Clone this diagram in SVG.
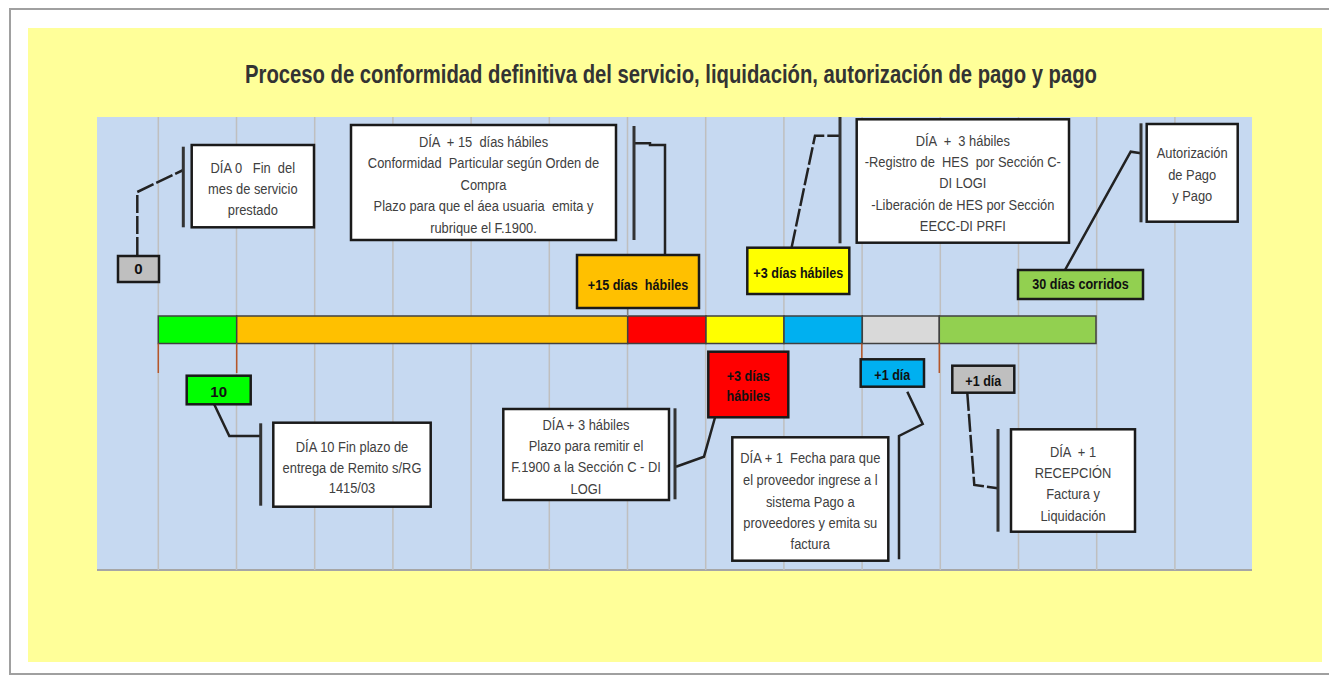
<svg xmlns="http://www.w3.org/2000/svg" width="1329" height="679" viewBox="0 0 1329 679">
<style>
.box{fill:#fff;stroke:#1a1a1a;stroke-width:2.5}
.lbl{stroke:#1a1a1a;stroke-width:2.5}
.t{font-family:"Liberation Sans",Arial,sans-serif;font-size:15px;fill:#404040;text-anchor:middle;white-space:pre}
.b{font-family:"Liberation Sans",Arial,sans-serif;font-size:15px;font-weight:bold;fill:#111;text-anchor:middle;white-space:pre}
.grid{stroke:#BFBFBF;stroke-width:1.5}
.seg{stroke:#404040;stroke-width:1.5}
.con{fill:none;stroke:#222;stroke-width:2.5}
.dash{stroke-dasharray:18 3}
.bar{stroke:#333;stroke-width:3}
.tick{stroke:#B5562A;stroke-width:1.5}
</style>
<rect x="10" y="9" width="1330" height="665" fill="#fff" stroke="#A0A0A0" stroke-width="2"/>
<rect x="28" y="28" width="1294" height="634" fill="#FFFF99"/>
<text x="671" y="83" font-family="'Liberation Sans',Arial,sans-serif" font-size="25" font-weight="bold" fill="#333" text-anchor="middle" textLength="852" lengthAdjust="spacingAndGlyphs">Proceso de conformidad definitiva del servicio, liquidación, autorización de pago y pago</text>
<g id="background">
<rect x="97" y="117" width="1155" height="453" fill="#C6D9F1"/>
<line x1="97" y1="570" x2="1252" y2="570" stroke="#A6A6A6" stroke-width="2"/>
<g class="grid">
<line x1="158.3" y1="117" x2="158.3" y2="570"/>
<line x1="236.5" y1="117" x2="236.5" y2="570"/>
<line x1="314.7" y1="117" x2="314.7" y2="570"/>
<line x1="392.9" y1="117" x2="392.9" y2="570"/>
<line x1="471.1" y1="117" x2="471.1" y2="570"/>
<line x1="549.3" y1="117" x2="549.3" y2="570"/>
<line x1="627.5" y1="117" x2="627.5" y2="570"/>
<line x1="705.7" y1="117" x2="705.7" y2="570"/>
<line x1="783.9" y1="117" x2="783.9" y2="570"/>
<line x1="862.1" y1="117" x2="862.1" y2="570"/>
<line x1="940.3" y1="117" x2="940.3" y2="570"/>
<line x1="1018.5" y1="117" x2="1018.5" y2="570"/>
<line x1="1096.7" y1="117" x2="1096.7" y2="570"/>
<line x1="1174.9" y1="117" x2="1174.9" y2="570"/>
</g>
</g>
<g id="timeline">
<rect class="seg" x="158.3" y="316" width="78.4" height="27.5" fill="#00FF00"/>
<rect class="seg" x="236.7" y="316" width="391" height="27.5" fill="#FFC000"/>
<rect class="seg" x="627.7" y="316" width="78.3" height="27.5" fill="#FF0000"/>
<rect class="seg" x="706" y="316" width="78" height="27.5" fill="#FFFF00"/>
<rect class="seg" x="784" y="316" width="78.3" height="27.5" fill="#00B0F0"/>
<rect class="seg" x="862.3" y="316" width="77" height="27.5" fill="#D9D9D9"/>
<rect class="seg" x="939.3" y="316" width="156.7" height="27.5" fill="#92D050"/>
<line class="tick" x1="158.3" y1="343.5" x2="158.3" y2="373"/>
<line class="tick" x1="236.7" y1="343.5" x2="236.7" y2="373"/>
<line class="tick" x1="861.8" y1="343.5" x2="861.8" y2="359"/>
<line class="tick" x1="939.3" y1="343.5" x2="939.3" y2="373"/>
<line x1="627.7" y1="308" x2="627.7" y2="316" stroke="#808080" stroke-width="1.5"/>
</g>
<g id="connectors">
<polyline class="con dash" points="137.3,255 137.3,192 183.3,170"/>
<line class="bar" x1="183.3" y1="146.7" x2="183.3" y2="227.3"/>
<polyline class="con" points="634,143.3 650,143.3 650,145 665,145 665,255"/>
<line class="bar" x1="634" y1="126" x2="634" y2="240" stroke="#555"/>
<polyline class="con dash" points="791.7,247 815,135.7 840,135.7"/>
<line class="bar" x1="840" y1="117" x2="840" y2="243.3"/>
<polyline class="con" points="1065,270 1130.7,151.7 1141,153.3"/>
<line class="bar" x1="1141" y1="123.3" x2="1141" y2="222.3" stroke="#555"/>
<polyline class="con" points="214.3,404.5 229.3,436 260.7,436"/>
<line class="bar" x1="260.7" y1="423.3" x2="260.7" y2="505.7"/>
<polyline class="con" points="715,417.5 704,456.7 676,466.7"/>
<line class="bar" x1="675" y1="408.3" x2="675" y2="499.3" stroke="#555"/>
<polyline class="con" points="907.3,391.7 922.7,424 899,436 899,559.3"/>
<polyline class="con dash" points="967.3,393 974.3,485 997.7,488.3"/>
<line class="bar" x1="998" y1="429" x2="998" y2="531.7"/>
</g>
<g id="n-dia0">
<rect class="box" x="191.7" y="145" width="122.3" height="82.3"/>
<g transform="translate(252.8 0) scale(0.86 1)">
<text class="t" x="0" y="173">DÍA 0   Fin  del</text>
<text class="t" x="0" y="194">mes de servicio</text>
<text class="t" x="0" y="215">prestado</text>
</g>
</g>
<g id="n-0">
<rect class="lbl" x="118" y="256" width="41" height="26" fill="#BFBFBF"/>
<text class="b" x="138.5" y="274">0</text>
</g>
<g id="n-dia15">
<rect class="box" x="351" y="125" width="265" height="115"/>
<g transform="translate(483.5 0) scale(0.86 1)">
<text class="t" x="0" y="147">DÍA  + 15  días hábiles</text>
<text class="t" x="0" y="168.5">Conformidad  Particular según Orden de</text>
<text class="t" x="0" y="190">Compra</text>
<text class="t" x="0" y="211.5">Plazo para que el áea usuaria  emita y</text>
<text class="t" x="0" y="233">rubrique el F.1900.</text>
</g>
</g>
<g id="n-15">
<rect class="lbl" x="577" y="255" width="122" height="53" fill="#FFC000"/>
<g transform="translate(638 0) scale(0.84 1)"><text class="b" x="0" y="290">+15 días  hábiles</text></g>
</g>
<g id="n-3y">
<rect class="lbl" x="747.3" y="247.7" width="102" height="46.3" fill="#FFFF00"/>
<g transform="translate(798.3 0) scale(0.84 1)"><text class="b" x="0" y="278">+3 días hábiles</text></g>
</g>
<g id="n-hes">
<rect class="box" x="856.7" y="119.3" width="212.3" height="123.4"/>
<g transform="translate(962.8 0) scale(0.86 1)">
<text class="t" x="0" y="146">DÍA  +  3 hábiles</text>
<text class="t" x="0" y="167">-Registro de  HES  por Sección C-</text>
<text class="t" x="0" y="188.5">DI LOGI</text>
<text class="t" x="0" y="210">-Liberación de HES por Sección</text>
<text class="t" x="0" y="231">EECC-DI PRFI</text>
</g>
</g>
<g id="n-30">
<rect class="lbl" x="1018" y="270" width="125" height="29" fill="#92D050"/>
<g transform="translate(1080.5 0) scale(0.84 1)"><text class="b" x="0" y="289.5">30 días corridos</text></g>
</g>
<g id="n-aut">
<rect class="box" x="1146.7" y="124" width="91" height="97.7"/>
<g transform="translate(1192.2 0) scale(0.86 1)">
<text class="t" x="0" y="158.5">Autorización</text>
<text class="t" x="0" y="180">de Pago</text>
<text class="t" x="0" y="201">y Pago</text>
</g>
</g>
<g id="n-10">
<rect class="lbl" x="186.7" y="375.7" width="64" height="28.6" fill="#00FF00"/>
<text class="b" x="218.7" y="396.5">10</text>
</g>
<g id="n-dia10">
<rect class="box" x="273.3" y="422.7" width="157.4" height="84"/>
<g transform="translate(352 0) scale(0.86 1)">
<text class="t" x="0" y="452.5">DÍA 10 Fin plazo de</text>
<text class="t" x="0" y="473.5">entrega de Remito s/RG</text>
<text class="t" x="0" y="493.5">1415/03</text>
</g>
</g>
<g id="n-3r">
<rect class="lbl" x="708.3" y="351.7" width="80" height="65.6" fill="#FF0000"/>
<g transform="translate(748.3 0) scale(0.84 1)">
<text class="b" x="0" y="381">+3 días</text>
<text class="b" x="0" y="401">hábiles</text>
</g>
</g>
<g id="n-plazo">
<rect class="box" x="503.3" y="409" width="165.7" height="91"/>
<g transform="translate(586 0) scale(0.86 1)">
<text class="t" x="0" y="430">DÍA + 3 hábiles</text>
<text class="t" x="0" y="451">Plazo para remitir el</text>
<text class="t" x="0" y="472.5">F.1900 a la Sección C - DI</text>
<text class="t" x="0" y="494.5">LOGI</text>
</g>
</g>
<g id="n-1b">
<rect class="lbl" x="860.7" y="359.3" width="63.3" height="27.4" fill="#00B0F0"/>
<g transform="translate(892.3 0) scale(0.84 1)"><text class="b" x="0" y="380">+1 día</text></g>
</g>
<g id="n-fecha">
<rect class="box" x="732.3" y="437.3" width="156" height="123.4"/>
<g transform="translate(810.3 0) scale(0.86 1)">
<text class="t" x="0" y="463.5">DÍA + 1  Fecha para que</text>
<text class="t" x="0" y="485.5">el proveedor ingrese a l</text>
<text class="t" x="0" y="507">sistema Pago a</text>
<text class="t" x="0" y="528.5">proveedores y emita su</text>
<text class="t" x="0" y="549">factura</text>
</g>
</g>
<g id="n-1g">
<rect class="lbl" x="952.3" y="365.7" width="62" height="27" fill="#BFBFBF"/>
<g transform="translate(983.3 0) scale(0.84 1)"><text class="b" x="0" y="386.5">+1 día</text></g>
</g>
<g id="n-recep">
<rect class="box" x="1011" y="429.3" width="124" height="102.4"/>
<g transform="translate(1073 0) scale(0.86 1)">
<text class="t" x="0" y="457">DÍA  + 1</text>
<text class="t" x="0" y="478">RECEPCIÓN</text>
<text class="t" x="0" y="499">Factura y</text>
<text class="t" x="0" y="521">Liquidación</text>
</g>
</g>
</svg>
